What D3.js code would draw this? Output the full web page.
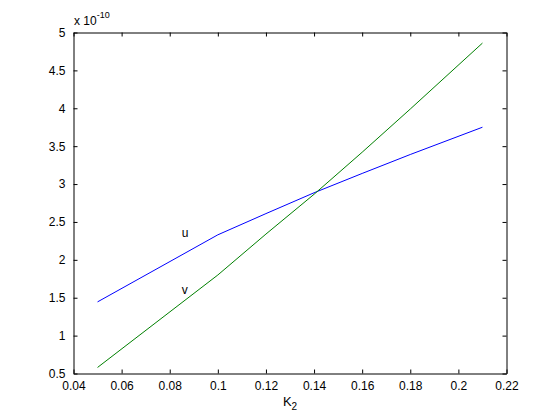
<!DOCTYPE html>
<html>
<head>
<meta charset="utf-8">
<script src="https://cdn.jsdelivr.net/npm/d3@7"></script>
<style>
html,body{margin:0;padding:0;background:#fff;}
svg{display:block;}
text{font-family:Arial,"Liberation Sans",Helvetica,sans-serif;fill:#000;}
</style>
</head>
<body>
<svg id="chart" width="560" height="420"></svg>
<script>
// Data (y values in units of 1e-10)
const xValues = [0.05, 0.10, 0.12, 0.14, 0.16, 0.18, 0.21];
const uValues = [1.445, 2.33, 2.61, 2.885, 3.14, 3.39, 3.75];
const vValues = [0.58, 1.80, 2.34, 2.865, 3.42, 3.99, 4.86];
const xTicks = [0.04, 0.06, 0.08, 0.1, 0.12, 0.14, 0.16, 0.18, 0.2, 0.22];
const yTicks = [0.5, 1, 1.5, 2, 2.5, 3, 3.5, 4, 4.5, 5];
const seriesNames = ["u", "v"];
const labelPos = [[0.085, 2.36], [0.085, 1.61]];

const svg = d3.select("#chart");
const L = 73.5, R = 506.5, T = 32.5, B = 373.5;
const x = d3.scaleLinear().domain([0.04, 0.22]).range([L, R]);
const y = d3.scaleLinear().domain([0.5, 5]).range([B, T]);
const tickLen = 4;

svg.append("rect").attr("width", 560).attr("height", 420).attr("fill", "#fff");

const fmt = d => String(+d.toFixed(2));

// bottom axis
const gB = svg.append("g").attr("transform", `translate(0,${B})`)
  .call(d3.axisBottom(x).tickValues(xTicks).tickFormat(fmt).tickSizeInner(-tickLen).tickSizeOuter(0).tickPadding(8));
// top axis
const gT = svg.append("g").attr("transform", `translate(0,${T})`)
  .call(d3.axisTop(x).tickValues(xTicks).tickFormat("").tickSizeInner(-tickLen).tickSizeOuter(0));
// left axis
const gL = svg.append("g").attr("transform", `translate(${L},0)`)
  .call(d3.axisLeft(y).tickValues(yTicks).tickFormat(fmt).tickSizeInner(-tickLen).tickSizeOuter(0).tickPadding(8));
// right axis
const gR = svg.append("g").attr("transform", `translate(${R},0)`)
  .call(d3.axisRight(y).tickValues(yTicks).tickFormat("").tickSizeInner(-tickLen).tickSizeOuter(0));

[gB, gT, gL, gR].forEach(g => {
  g.selectAll(".domain").attr("stroke", "#000").attr("stroke-width", 1);
  g.selectAll(".tick line").attr("stroke", "#000").attr("stroke-width", 1);
  g.selectAll("text").attr("font-size", 12).attr("fill", "#000")
    .style("font-family", "Arial, 'Liberation Sans', sans-serif");
});
gB.selectAll("text").attr("dy", "0.71em").attr("y", 8);
gL.selectAll("text").attr("x", -8);

// lines
const line = d3.line().x((d, i) => x(xValues[i])).y(d => y(d));
svg.append("path").datum(uValues).attr("d", line)
  .attr("fill", "none").attr("stroke", "#0000ff").attr("stroke-width", 1);
svg.append("path").datum(vValues).attr("d", line)
  .attr("fill", "none").attr("stroke", "#008000").attr("stroke-width", 1);

// series text labels
svg.selectAll(".slabel").data(seriesNames).enter().append("text")
  .attr("class", "slabel")
  .attr("x", (d, i) => x(labelPos[i][0]))
  .attr("y", (d, i) => y(labelPos[i][1]))
  .attr("dy", "0.35em")
  .attr("font-size", 12)
  .text(d => d);

// exponent label
const ex = svg.append("text").attr("x", 74).attr("y", 25).attr("font-size", 12);
ex.append("tspan").text("x 10");
ex.append("tspan").attr("dy", -7).attr("font-size", 9).text("-10");

// x label
const xl = svg.append("text").attr("x", (L + R) / 2).attr("y", 406)
  .attr("text-anchor", "middle").attr("font-size", 13);
xl.append("tspan").text("K");
xl.append("tspan").attr("dy", 4).attr("font-size", 10).text("2");
</script>
</body>
</html>
